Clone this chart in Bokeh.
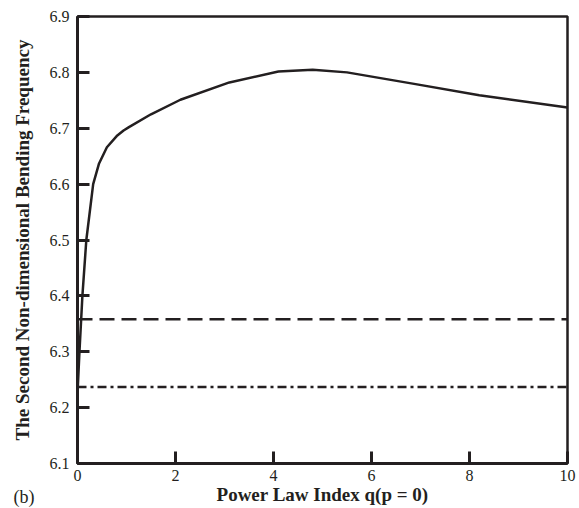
from bokeh.plotting import figure
from bokeh.models import Range1d, FixedTicker, Span, Title
from bokeh.embed import file_html
from bokeh.resources import INLINE

# Data
q_values = [0, 0.04, 0.1, 0.18, 0.32, 0.44, 0.6, 0.8, 0.94, 1.05, 1.5, 2.1, 3.1, 4.1, 4.8, 5.5, 6.9, 8.2, 10]
freq_fgm = [6.225, 6.30, 6.40, 6.50, 6.60, 6.637, 6.666, 6.686, 6.696, 6.702, 6.725, 6.751, 6.782, 6.8015, 6.8045, 6.800, 6.779, 6.759, 6.737]
freq_dashed = 6.358
freq_dashdot = 6.237
x_ticks = [0, 2, 4, 6, 8, 10]
y_ticks = [6.1, 6.2, 6.3, 6.4, 6.5, 6.6, 6.7, 6.8, 6.9]

FONT = "Liberation Serif"
INK = "#231f20"

p = figure(
    width=579, height=508,
    x_range=Range1d(0, 10), y_range=Range1d(6.1, 6.9),
    output_backend="svg", toolbar_location=None,
    min_border_left=77, min_border_right=12, min_border_top=16, min_border_bottom=45,
)
p.background_fill_color = "white"
p.border_fill_color = "white"
p.outline_line_color = INK
p.outline_line_width = 2.5
p.xgrid.visible = False
p.ygrid.visible = False

for ax in (p.xaxis[0], p.yaxis[0]):
    ax.axis_line_width = 3
    ax.axis_line_color = INK
    ax.major_tick_in = 12
    ax.major_tick_out = 0
    ax.major_tick_line_width = 3
    ax.major_tick_line_color = INK
    ax.minor_tick_line_color = None
    ax.major_label_text_font = FONT
    ax.major_label_text_font_size = "16px"
    ax.major_label_text_color = INK
    ax.axis_label_text_font = FONT
    ax.axis_label_text_font_style = "bold"
    ax.axis_label_text_font_size = "19px"
    ax.axis_label_text_color = INK

p.xaxis.ticker = FixedTicker(ticks=x_ticks)
p.yaxis.ticker = FixedTicker(ticks=y_ticks)
p.xaxis.major_label_standoff = 6
p.yaxis.major_label_standoff = 8
p.xaxis.axis_label = "Power Law Index q(p = 0)"
p.yaxis.axis_label = "The Second Non-dimensional Bending Frequency"
p.xaxis.axis_label_standoff = 0
p.yaxis.axis_label_standoff = 14

p.line(q_values, freq_fgm, line_color=INK, line_width=2.5)
p.add_layout(Span(location=freq_dashed, dimension="width", line_color=INK,
                  line_width=2.5, line_dash="15 7"))
p.add_layout(Span(location=freq_dashdot, dimension="width", line_color=INK,
                  line_width=2.5, line_dash="9 4 3 4"))

# panel label "(b)" as a title in the bottom panel, pulled up beside the axis label
p.add_layout(Title(text="(b)", align="left", vertical_align="top", offset=-64, standoff=-42,
                   text_font=FONT, text_font_size="18px", text_font_style="normal",
                   text_color=INK), "below")

open("out.html", "w").write(file_html(p, INLINE))
